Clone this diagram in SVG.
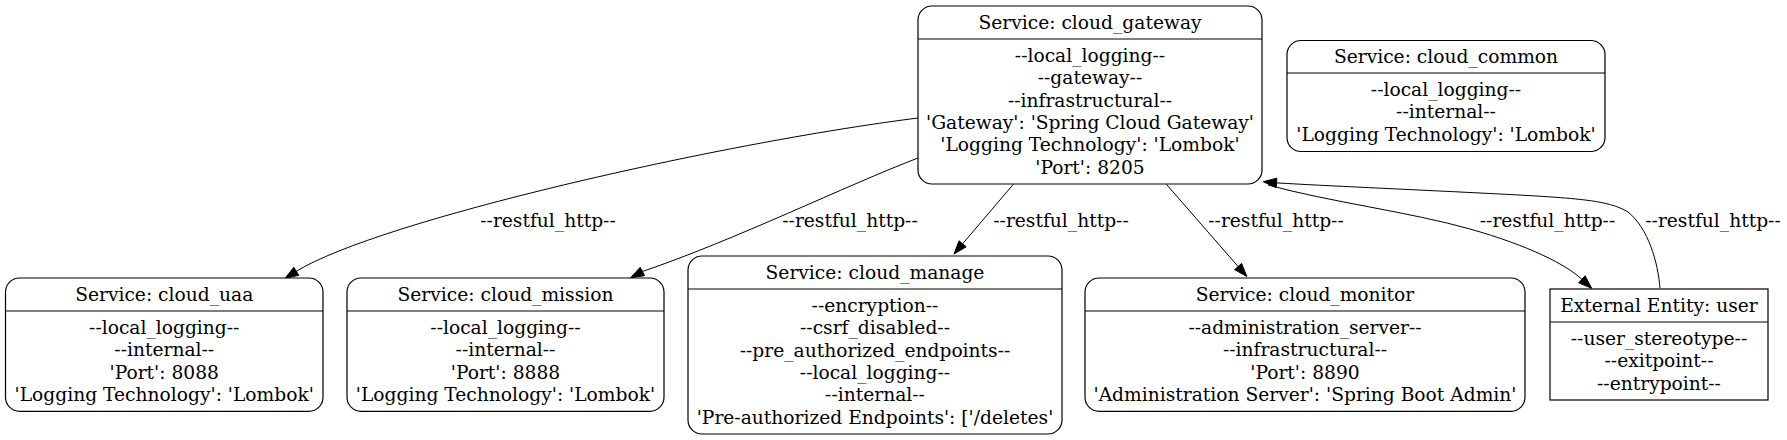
<svg xmlns="http://www.w3.org/2000/svg" width="1787" height="440" viewBox="0 0 1787 440">
<style>
  text { font-family: "DejaVu Serif", "Liberation Serif", serif; font-size: 18.67px; fill: #000; text-anchor: middle; }
  .box { fill: #fff; stroke: #000; stroke-width: 1.2; }
  .sep { stroke: #000; stroke-width: 1.2; }
  .edge { fill: none; stroke: #000; stroke-width: 1; }
  .head { fill: #000; stroke: #000; stroke-width: 1; }
</style>
<rect x="0" y="0" width="1787" height="440" fill="#fff"/>

<g id="connectors">
  <g id="e-gateway-uaa">
    <path class="edge" d="M918,118 C720,143 380,220 296.3,271.3"/>
    <polygon class="head" points="285,278.3 298.8,275.3 293.8,267.3"/>
    <text x="548" y="227">--restful_http--</text>
  </g>
  <g id="e-gateway-mission">
    <path class="edge" d="M918,158 C845,186 735,240 642.4,271.5"/>
    <polygon class="head" points="630.6,277.7 644.6,275.7 640.2,267.3"/>
    <text x="850" y="227">--restful_http--</text>
  </g>
  <g id="e-gateway-manage">
    <path class="edge" d="M1013.3,184.3 L962.6,243.8"/>
    <polygon class="head" points="954,254 966.2,246.8 959,240.8"/>
    <text x="1061" y="227">--restful_http--</text>
  </g>
  <g id="e-gateway-monitor">
    <path class="edge" d="M1166.4,184.3 L1238.1,266.5"/>
    <polygon class="head" points="1246.8,276.5 1241.6,263.4 1234.6,269.6"/>
    <text x="1276" y="227">--restful_http--</text>
  </g>
  <g id="e-gateway-user">
    <path class="edge" d="M1268,185 C1330,202 1410,212 1470,229 C1530,246 1566,264.7 1581.9,279.3"/>
    <polygon class="head" points="1591.7,288.3 1585.1,275.8 1578.7,282.8"/>
    <text x="1547.5" y="227">--restful_http--</text>
  </g>
  <g id="e-user-gateway">
    <path class="edge" d="M1660,288.3 C1658,262 1648,228 1628,212 C1608,200 1580,198 1480,193 C1400,189 1330,186 1276.5,182.9"/>
    <polygon class="head" points="1263.3,181.7 1276.9,178.2 1276.1,187.6"/>
    <text x="1713" y="227">--restful_http--</text>
  </g>
</g>

<g id="cloud_gateway">
  <rect class="box" x="918" y="6" width="344" height="178" rx="14" ry="14"/>
  <line class="sep" x1="918" y1="39" x2="1262" y2="39"/>
  <text x="1090" y="28.8">Service: cloud_gateway</text>
  <text x="1090" y="61.8">--local_logging--</text>
  <text x="1090" y="84.2">--gateway--</text>
  <text x="1090" y="106.6">--infrastructural--</text>
  <text x="1090" y="129">'Gateway': 'Spring Cloud Gateway'</text>
  <text x="1090" y="151.4">'Logging Technology': 'Lombok'</text>
  <text x="1090" y="173.8">'Port': 8205</text>
</g>

<g id="cloud_common">
  <rect class="box" x="1287" y="40.5" width="318" height="111" rx="14" ry="14"/>
  <line class="sep" x1="1287" y1="73" x2="1605" y2="73"/>
  <text x="1446" y="62.8">Service: cloud_common</text>
  <text x="1446" y="95.9">--local_logging--</text>
  <text x="1446" y="118.3">--internal--</text>
  <text x="1446" y="140.7">'Logging Technology': 'Lombok'</text>
</g>

<g id="cloud_uaa">
  <rect class="box" x="5.5" y="278" width="317.5" height="133.3" rx="14" ry="14"/>
  <line class="sep" x1="5.5" y1="311" x2="323" y2="311"/>
  <text x="164.25" y="300.8">Service: cloud_uaa</text>
  <text x="164.25" y="333.85">--local_logging--</text>
  <text x="164.25" y="356.25">--internal--</text>
  <text x="164.25" y="378.65">'Port': 8088</text>
  <text x="164.25" y="401.05">'Logging Technology': 'Lombok'</text>
</g>

<g id="cloud_mission">
  <rect class="box" x="347" y="278" width="317" height="133.3" rx="14" ry="14"/>
  <line class="sep" x1="347" y1="311" x2="664" y2="311"/>
  <text x="505.5" y="300.8">Service: cloud_mission</text>
  <text x="505.5" y="333.85">--local_logging--</text>
  <text x="505.5" y="356.25">--internal--</text>
  <text x="505.5" y="378.65">'Port': 8888</text>
  <text x="505.5" y="401.05">'Logging Technology': 'Lombok'</text>
</g>

<g id="cloud_manage">
  <rect class="box" x="688" y="256" width="374" height="178" rx="14" ry="14"/>
  <line class="sep" x1="688" y1="289" x2="1062" y2="289"/>
  <text x="875" y="278.8">Service: cloud_manage</text>
  <text x="875" y="311.8">--encryption--</text>
  <text x="875" y="334.2">--csrf_disabled--</text>
  <text x="875" y="356.6">--pre_authorized_endpoints--</text>
  <text x="875" y="379">--local_logging--</text>
  <text x="875" y="401.4">--internal--</text>
  <text x="875" y="423.8">'Pre-authorized Endpoints': ['/deletes'</text>
</g>

<g id="cloud_monitor">
  <rect class="box" x="1085" y="278" width="440" height="133.3" rx="14" ry="14"/>
  <line class="sep" x1="1085" y1="311" x2="1525" y2="311"/>
  <text x="1305" y="300.8">Service: cloud_monitor</text>
  <text x="1305" y="333.85">--administration_server--</text>
  <text x="1305" y="356.25">--infrastructural--</text>
  <text x="1305" y="378.65">'Port': 8890</text>
  <text x="1305" y="401.05">'Administration Server': 'Spring Boot Admin'</text>
</g>

<g id="user">
  <rect class="box" x="1550" y="289" width="218" height="111"/>
  <line class="sep" x1="1550" y1="322" x2="1768" y2="322"/>
  <text x="1659" y="311.8">External Entity: user</text>
  <text x="1659" y="344.9">--user_stereotype--</text>
  <text x="1659" y="367.3">--exitpoint--</text>
  <text x="1659" y="389.7">--entrypoint--</text>
</g>
</svg>
